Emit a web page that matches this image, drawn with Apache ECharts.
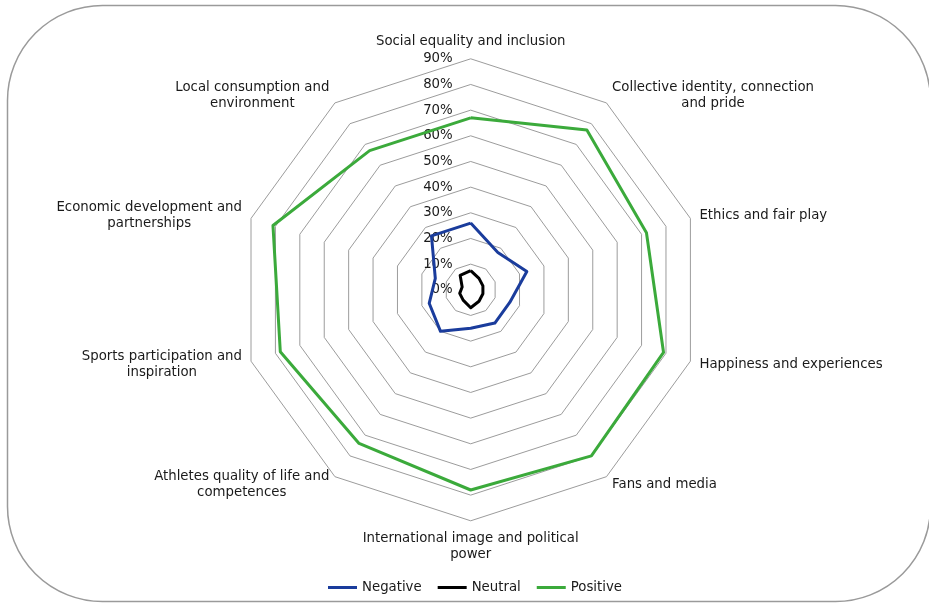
<!DOCTYPE html>
<html>
<head>
<meta charset="utf-8">
<script src="https://cdn.jsdelivr.net/npm/echarts@6/dist/echarts.min.js"></script>
<style>
html,body{margin:0;padding:0;background:#fff;}
#chart{width:929px;height:603px;}
</style>
</head>
<body>
<div id="chart"></div>
<script>
// Categories listed clockwise starting from the top
var categories = [
  'Social equality and inclusion',
  'Collective identity, connection\nand pride',
  'Ethics and fair play',
  'Happiness and experiences',
  'Fans and media',
  'International image and political\npower',
  'Athletes quality of life and\ncompetences',
  'Sports participation and\ninspiration',
  'Economic development and\npartnerships',
  'Local consumption and\nenvironment'
];
var seriesNames = ['Negative', 'Neutral', 'Positive'];
var negative = [26, 18, 23, 16, 16, 15, 20, 17, 14.5, 26];
var neutral  = [7.5, 5.5, 5, 5, 5.5, 7, 5, 4.5, 3.5, 7];
var positive = [67, 77, 72, 79, 80, 78, 74, 78, 81, 67];
var axisMax = 90;
var axisStep = 10;

var FONT = 'DejaVu Sans, Verdana, sans-serif';
var FS = 13.3;

// ECharts places radar indicators counter-clockwise; reorder so they run clockwise.
function toCCW(arr) {
  var out = [arr[0]];
  for (var i = arr.length - 1; i >= 1; i--) out.push(arr[i]);
  return out;
}

var indicators = toCCW(categories).map(function (name, i) {
  var ind = { name: name, min: 0, max: axisMax };
  if (i === 0) {
    ind.axisLabel = {
      show: true, formatter: '{value}%', margin: 18,
      color: '#1a1a1a', fontSize: FS, fontFamily: FONT
    };
  }
  return ind;
});

var chart = echarts.init(document.getElementById('chart'), null, { renderer: 'canvas' });
chart.setOption({
  backgroundColor: '#ffffff',
  animation: false,
  graphic: [{
    type: 'rect', z: -1,
    shape: { x: 7.5, y: 5.5, width: 923, height: 596, r: 95 },
    style: { fill: 'none', stroke: '#9a9a9a', lineWidth: 1.5 }
  }],
  legend: {
    data: seriesNames,
    left: 323, top: 576,
    icon: 'rect', itemWidth: 29, itemHeight: 3, itemGap: 16,
    textStyle: { color: '#1a1a1a', fontSize: FS, fontFamily: FONT }
  },
  radar: {
    center: [470.7, 289.8],
    radius: 231,
    startAngle: 90,
    shape: 'polygon',
    splitNumber: axisMax / axisStep,
    nameGap: 9.5,
    indicator: indicators,
    axisName: {
      color: '#1a1a1a', fontSize: FS, fontFamily: FONT, lineHeight: 16,
      formatter: function (name) {
        return name.split('\n').map(function (l) { return '{c|' + l + '}'; }).join('\n');
      },
      rich: { c: { align: 'center', color: '#1a1a1a', fontSize: FS, fontFamily: FONT, lineHeight: 16 } }
    },
    axisLine: { show: false },
    axisTick: { show: false },
    axisLabel: { show: false },
    splitArea: { show: false },
    splitLine: { lineStyle: { color: '#9c9c9c', width: 1 } }
  },
  series: [{
    type: 'radar',
    symbol: 'none',
    data: [
      { name: seriesNames[0], value: toCCW(negative), lineStyle: { color: '#1a3c9c', width: 3 }, itemStyle: { color: '#1a3c9c' } },
      { name: seriesNames[1], value: toCCW(neutral), lineStyle: { color: '#000000', width: 3 }, itemStyle: { color: '#000000' } },
      { name: seriesNames[2], value: toCCW(positive), lineStyle: { color: '#3baa3b', width: 3 }, itemStyle: { color: '#3baa3b' } }
    ]
  }]
});
</script>
</body>
</html>
